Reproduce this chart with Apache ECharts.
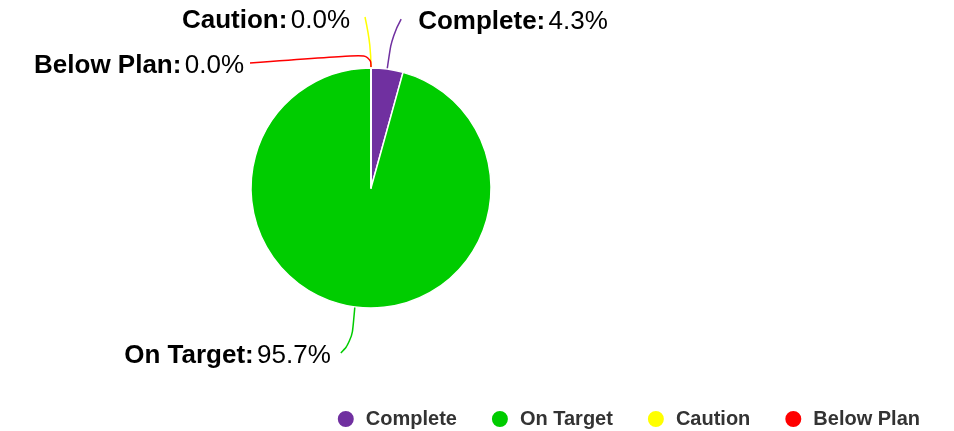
<!DOCTYPE html>
<html>
<head>
<meta charset="utf-8">
<script src="https://cdn.jsdelivr.net/npm/echarts@6/dist/echarts.min.js"></script>
<style>
  html, body { margin: 0; padding: 0; background: #fff; }
  #chart { width: 954px; height: 431px; }
</style>
</head>
<body>
<div id="chart"></div>
<script>
const categories = ["Complete", "On Target", "Caution", "Below Plan"];
const values = [4.3, 95.7, 0, 0];
const colors = ["#7030A0", "#00CC00", "#FFFF00", "#FF0000"];

const FONT = "'Liberation Sans', Arial, Helvetica, sans-serif";

// label offsets from the slice edge point (label anchor, line bend, line end)
const labelPlacement = [
  { align: "left", dx: 31, dy: -47, bend: [5, -34], end: [14, -50] },
  { align: "right", dx: -24, dy: 49, bend: [-3, 35], end: [-14, 46] },
  { align: "right", dx: -21, dy: -47, bend: [0, -23], end: [-6, -51] },
  { align: "right", dx: -127, dy: -2, bend: [0, -14], end: [-121, -5] },
];

const chart = echarts.init(document.getElementById("chart"));

const option = {
  color: colors,
  textStyle: { fontFamily: FONT },
  legend: {
    data: categories,
    bottom: -3,
    right: 29,
    icon: "circle",
    itemWidth: 18,
    itemHeight: 18,
    itemGap: 33,
    textStyle: {
      fontFamily: FONT,
      fontSize: 20,
      fontWeight: "bold",
      color: "#333",
      padding: [0, 0, 0, 6],
    },
  },
  series: [
    {
      type: "pie",
      center: [371, 188],
      radius: [0, 120],
      startAngle: 90,
      clockwise: true,
      percentPrecision: 1,
      avoidLabelOverlap: false,
      itemStyle: { borderColor: "#fff", borderWidth: 1.5 },
      label: {
        show: true,
        fontFamily: FONT,
        formatter: (p) => "{b|" + p.name + ":} {d|" + p.percent.toFixed(1) + "%}",
        rich: {
          b: { fontFamily: FONT, fontSize: 26, fontWeight: "bold", color: "#000" },
          d: { fontFamily: FONT, fontSize: 26, color: "#000" },
        },
      },
      labelLine: {
        show: true,
        smooth: 0.5,
        length: 30,
        length2: 10,
        lineStyle: { width: 1.5 },
      },
      labelLayout: function (params) {
        const p0 = params.labelLinePoints[0];
        const c = labelPlacement[params.dataIndex];
        return {
          x: p0[0] + c.dx,
          y: p0[1] + c.dy,
          align: c.align,
          verticalAlign: "middle",
          labelLinePoints: [
            p0,
            [p0[0] + c.bend[0], p0[1] + c.bend[1]],
            [p0[0] + c.end[0], p0[1] + c.end[1]],
          ],
        };
      },
      data: categories.map((name, i) => ({ name: name, value: values[i] })),
    },
  ],
};

chart.setOption(option);
window.addEventListener("resize", () => chart.resize());
</script>
</body>
</html>
